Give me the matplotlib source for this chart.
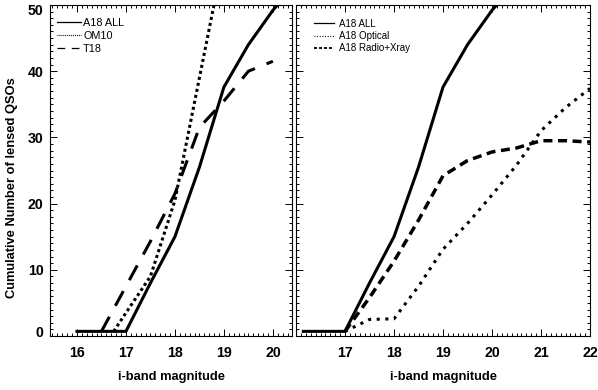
import matplotlib
matplotlib.use('Agg')
import matplotlib.pyplot as plt
from matplotlib.ticker import MultipleLocator, FixedLocator
from matplotlib.lines import Line2D
import matplotlib.transforms as mtransforms

plt.rcParams['font.family'] = ['Liberation Sans', 'DejaVu Sans']
plt.rcParams['lines.scale_dashes'] = False

# ---------------- data ----------------
# Left panel
all_mag = [16.0, 17.0, 17.5, 18.0, 18.5, 19.0, 19.5, 20.0, 20.5]
all_n = [0.7, 0.7, 8.0, 15.0, 25.5, 37.6, 44.0, 49.2, 53.5]
om10_mag = [16.75, 17.0, 17.5, 18.0, 18.5, 19.0]
om10_n = [0.7, 3.5, 9.0, 20.5, 39.0, 57.5]
t18_mag = [16.5, 17.0, 17.5, 18.0, 18.5, 19.0, 19.5, 20.0]
t18_n = [0.7, 7.5, 14.3, 21.5, 31.5, 35.5, 40.0, 41.5]

# Right panel
all_mag_r = [16.15, 17.0, 17.5, 18.0, 18.5, 19.0, 19.5, 20.0, 20.5]
all_n_r = [0.7, 0.7, 8.0, 15.0, 25.5, 37.6, 44.0, 49.2, 53.5]
opt_mag = [17.0, 17.5, 18.0, 18.5, 19.0, 19.5, 20.0, 20.5, 21.0, 21.5, 22.0]
opt_n = [0.7, 2.5, 2.6, 7.5, 13.1, 17.0, 21.3, 25.8, 31.0, 34.5, 37.4]
rx_mag = [17.0, 17.5, 18.0, 18.5, 19.0, 19.5, 20.0, 20.5, 21.0, 21.5, 22.0]
rx_n = [0.7, 5.8, 11.3, 17.5, 24.2, 26.5, 27.8, 28.4, 29.5, 29.5, 29.3]

left_labels = ['A18 ALL', 'OM10', 'T18']
right_labels = ['A18 ALL', 'A18 Optical', 'A18 Radio+Xray']
left_xticks = [16, 17, 18, 19, 20]
right_xticks = [17, 18, 19, 20, 21, 22]
yticks = [0, 10, 20, 30, 40, 50]
xlabel = 'i-band magnitude'
ylabel = 'Cumulative Number of lensed QSOs'

# ---------------- figure ----------------
W, H = 598, 390
fig = plt.figure(figsize=(W / 100, H / 100), dpi=100)

def frac(x0, x1, y0, y1):
    return [x0 / W, 1 - y1 / H, (x1 - x0) / W, (y1 - y0) / H]

axL = fig.add_axes(frac(50, 292, 5, 336))
axR = fig.add_axes(frac(296, 590, 5, 336))

LW = 2.2
axL.plot(all_mag, all_n, color='black', lw=LW, solid_joinstyle='miter')
axL.plot(om10_mag, om10_n, color='black', lw=LW, dashes=(2.2, 2.2), dash_capstyle='butt')
axL.plot(t18_mag, t18_n, color='black', lw=LW, dashes=(12, 9), dash_capstyle='butt')

axR.plot(all_mag_r, all_n_r, color='black', lw=LW, solid_joinstyle='miter')
axR.plot(opt_mag, opt_n, color='black', lw=LW, dashes=(2.2, 4.0), dash_capstyle='butt')
axR.plot(rx_mag, rx_n, color='black', lw=2.5, dashes=(6.5, 4.0), dash_capstyle='butt')

axL.set_xlim(15.45, 20.39)
axR.set_xlim(16, 22)
for ax in (axL, axR):
    ax.set_ylim(0, 50)
    ax.yaxis.set_major_locator(FixedLocator(yticks))
    ax.yaxis.set_minor_locator(MultipleLocator(1))
    ax.xaxis.set_minor_locator(MultipleLocator(0.1))
    ax.tick_params(which='both', direction='in', top=True, right=True,
                   width=0.7, colors='black')
    ax.tick_params(which='major', length=5)
    ax.tick_params(which='minor', length=2.4)
    ax.tick_params(axis='x', which='major', pad=7, labelsize=10.2)
    ax.tick_params(axis='y', which='major', pad=4.5, labelsize=10.2)
    for s in ax.spines.values():
        s.set_linewidth(0.8)
    ax.set_xlabel(xlabel, fontsize=9.3, fontweight='bold')
    ax.xaxis.set_label_coords(0.5, -41 / 331)
    ax.xaxis.label.set_va('center')

axL.xaxis.set_major_locator(FixedLocator(left_xticks))
axR.xaxis.set_major_locator(FixedLocator(right_xticks))
axR.tick_params(axis='y', labelleft=False)
for lab in axL.get_xticklabels() + axL.get_yticklabels() + axR.get_xticklabels():
    lab.set_fontweight('bold')

axL.set_ylabel(ylabel, fontsize=9.3, fontweight='bold')
axL.yaxis.set_label_coords(-38 / 242, (336 - 188) / 331)
axL.yaxis.label.set_va('center')

# legends (thin proxy handles)
hL = [Line2D([], [], color='black', lw=0.9),
      Line2D([], [], color='black', lw=0.8, dashes=(0.7, 0.7)),
      Line2D([], [], color='black', lw=0.9, dashes=(5.5, 4.8), dash_capstyle='butt')]
legL = axL.legend(hL, left_labels, loc='upper left', bbox_to_anchor=(0.029, 0.962),
                  frameon=False, fontsize=7.8, handlelength=2.2, handletextpad=0.2,
                  labelspacing=0.28, borderpad=0, borderaxespad=0)

hR = [Line2D([], [], color='black', lw=0.9),
      Line2D([], [], color='black', lw=0.8, dashes=(0.7, 1.2)),
      Line2D([], [], color='black', lw=1.3, dashes=(2.2, 1.4), dash_capstyle='butt')]
legR = axR.legend(hR, right_labels, loc='upper left', bbox_to_anchor=(0.061, 0.958),
                  frameon=False, fontsize=7.0, handlelength=2.1, handletextpad=0.5,
                  labelspacing=0.22, borderpad=0, borderaxespad=0)

# nudge end labels inside like the original
fig.canvas.draw()
ylabs = axL.get_yticklabels()
ylabs[0].set_transform(ylabs[0].get_transform() + mtransforms.ScaledTranslation(0, 4.5 / 100, fig.dpi_scale_trans))
ylabs[-1].set_transform(ylabs[-1].get_transform() + mtransforms.ScaledTranslation(0, -4.5 / 100, fig.dpi_scale_trans))

fig.savefig('out.png', dpi=100, facecolor='white')
